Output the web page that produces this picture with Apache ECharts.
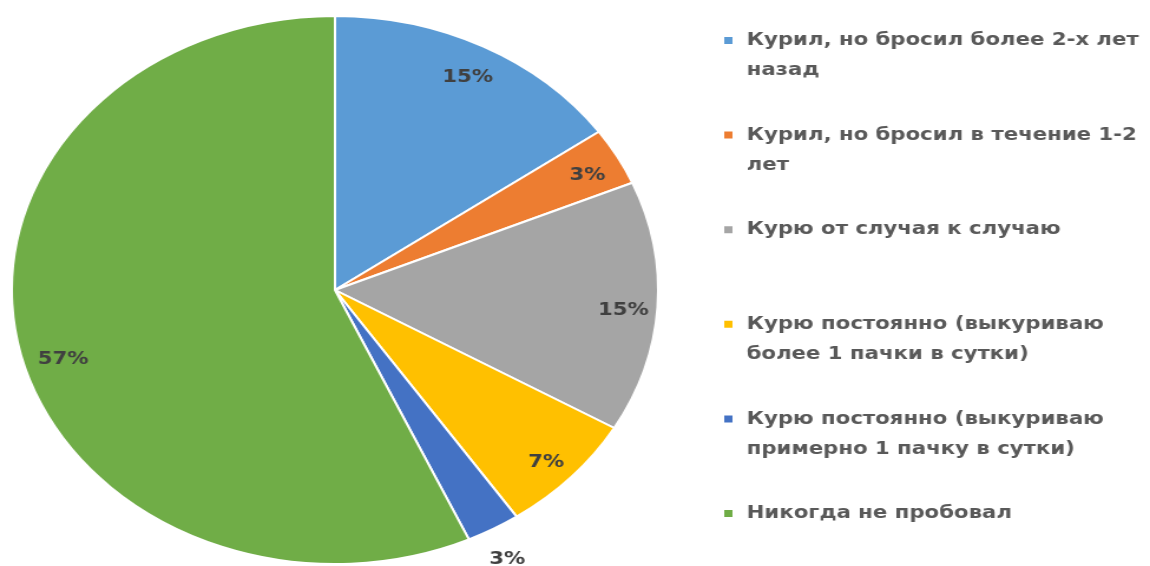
<!DOCTYPE html>
<html>
<head>
<meta charset="utf-8">
<script src="https://cdn.jsdelivr.net/npm/echarts@6/dist/echarts.min.js"></script>
<style>
  html, body { margin: 0; padding: 0; background: #ffffff; overflow: hidden; }
  #wrap { width: 1150px; height: 566px; overflow: hidden; }
  #chart { width: 975px; height: 566px; transform: scaleX(1.1795); transform-origin: 0 0; }
</style>
</head>
<body>
<div id="wrap"><div id="chart"></div></div>
<script>
// ---- data ----
const categories = [
  'Курил, но бросил более 2-х лет\nназад',
  'Курил, но бросил в течение 1-2\nлет',
  'Курю от случая к случаю',
  'Курю постоянно (выкуриваю\nболее 1 пачки в сутки)',
  'Курю постоянно (выкуриваю\nпримерно 1 пачку в сутки)',
  'Никогда не пробовал'
];
const shares = [15.2, 3.4, 14.8, 7.1, 2.7, 56.8];
const colors = ['#5B9BD5', '#ED7D31', '#A5A5A5', '#FFC000', '#4472C4', '#70AD47'];
const outsideLabelIndex = 4;
const largestIndex = 5;

const chart = echarts.init(document.getElementById('chart'), null, { renderer: 'canvas' });

const pct = p => Math.round(p.percent) + '%';
const labelStyle = {
  color: '#404040', fontFamily: 'DejaVu Sans', fontWeight: 'bold', fontSize: 18
};

const mainData = categories.map((n, i) => ({ name: n, value: shares[i], itemStyle: { color: colors[i] } }));
const innerLabelData = categories.map((n, i) => ({
  name: n, value: shares[i],
  label: i === largestIndex ? { show: true, offset: [9, 12] } : { show: i !== outsideLabelIndex }
}));
const outerLabelData = categories.map((n, i) => ({
  name: n, value: shares[i],
  label: { show: i === outsideLabelIndex }
}));

const transparentItem = { color: 'rgba(0,0,0,0)', borderWidth: 0 };

chart.setOption({
  animation: false,
  color: colors,
  legend: {
    orient: 'vertical',
    left: 612,
    top: -4.5,
    padding: 0,
    itemGap: 4.6,
    itemWidth: 9,
    itemHeight: 9,
    icon: 'rect',
    selectedMode: false,
    data: categories,
    // three text rows per item so the first label line sits level with the marker
    formatter: n => ' \n' + n + (n.indexOf('\n') >= 0 ? '' : '\n '),
    textStyle: {
      color: '#595959', fontFamily: 'DejaVu Sans', fontWeight: 'bold', fontSize: 18,
      lineHeight: 30, padding: [0, 0, 0, 6]
    }
  },
  series: [
    {
      type: 'pie', name: 'main',
      center: [284, 290], radius: [0, 274],
      startAngle: 90, clockwise: true,
      data: mainData,
      label: { show: false }, labelLine: { show: false },
      itemStyle: { borderColor: '#ffffff', borderWidth: 2 },
      emphasis: { disabled: true }
    },
    {
      type: 'pie', name: 'labelsInner', silent: true,
      center: [284, 295], radius: [0, 484],
      startAngle: 90, clockwise: true,
      data: innerLabelData,
      itemStyle: transparentItem,
      label: Object.assign({ position: 'inside', formatter: pct }, labelStyle),
      labelLine: { show: false },
      emphasis: { disabled: true }
    },
    {
      type: 'pie', name: 'labelsOuter', silent: true,
      center: [280, 293], radius: [0, 606],
      startAngle: 90, clockwise: true,
      data: outerLabelData,
      itemStyle: transparentItem,
      label: Object.assign({ position: 'inside', formatter: pct }, labelStyle),
      labelLine: { show: false },
      emphasis: { disabled: true }
    }
  ]
});
</script>
</body>
</html>
